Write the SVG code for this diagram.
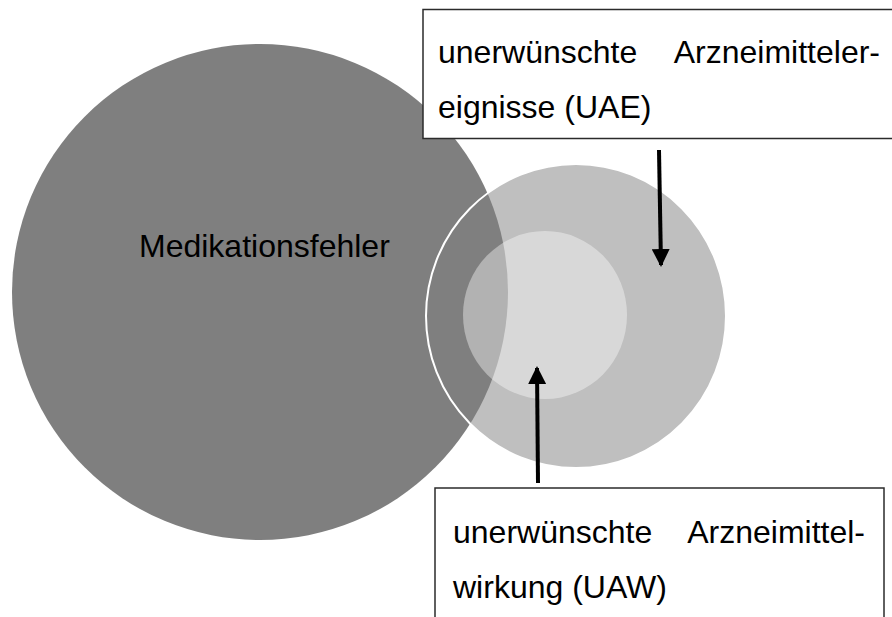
<svg xmlns="http://www.w3.org/2000/svg" width="892" height="617" viewBox="0 0 892 617">
  <style>
    .label { font-family: "Liberation Sans", Arial, sans-serif; font-size: 32px; fill: #000; }
    .box { fill: #fff; stroke: #2b2b2b; stroke-width: 1.5; }
    .arrow { stroke: #000; stroke-width: 4; fill: none; marker-end: url(#head); }
  </style>
  <defs>
    <marker id="head" markerUnits="userSpaceOnUse" markerWidth="18" markerHeight="18" viewBox="0 0 18 18" refX="16" refY="9" orient="auto">
      <path d="M0,0 L18,9 L0,18 Z" fill="#000"/>
    </marker>
  </defs>
  <rect width="892" height="617" fill="#fff"/>

  <!-- UAE: adverse drug events -->
  <g id="uae-circle">
    <ellipse cx="576" cy="316" rx="150" ry="152" fill="#bfbfbf"/>
  </g>

  <!-- Medication errors -->
  <g id="medikationsfehler">
    <ellipse cx="260" cy="292" rx="248" ry="248" fill="#7f7f7f"/>
    <text class="label" x="139" y="257">Medikationsfehler</text>
  </g>

  <!-- UAW: adverse drug reactions (subset of UAE) -->
  <g id="uaw-circle">
    <ellipse cx="545" cy="315" rx="82" ry="84" fill="#fff" fill-opacity="0.4"/>
  </g>

  <!-- outline of UAE circle, visible over the dark circle -->
  <ellipse cx="576" cy="316" rx="150" ry="152" fill="none" stroke="#fff" stroke-width="2"/>

  <g id="uae-label">
    <rect class="box" x="423" y="9.5" width="480" height="129"/>
    <text class="label" x="438" y="63">unerwünschte</text>
    <text class="label" x="880" y="63" text-anchor="end">Arzneimitteler-</text>
    <text class="label" x="438" y="118">eignisse (UAE)</text>
  </g>

  <g id="uaw-label">
    <rect class="box" x="435" y="488" width="449" height="140"/>
    <text class="label" x="453" y="543">unerwünschte</text>
    <text class="label" x="865" y="543" text-anchor="end">Arzneimittel-</text>
    <text class="label" x="453" y="598">wirkung (UAW)</text>
  </g>

  <g id="connectors">
    <line class="arrow" x1="659" y1="150" x2="661" y2="265"/>
    <line class="arrow" x1="538" y1="483" x2="537" y2="368"/>
  </g>
</svg>
